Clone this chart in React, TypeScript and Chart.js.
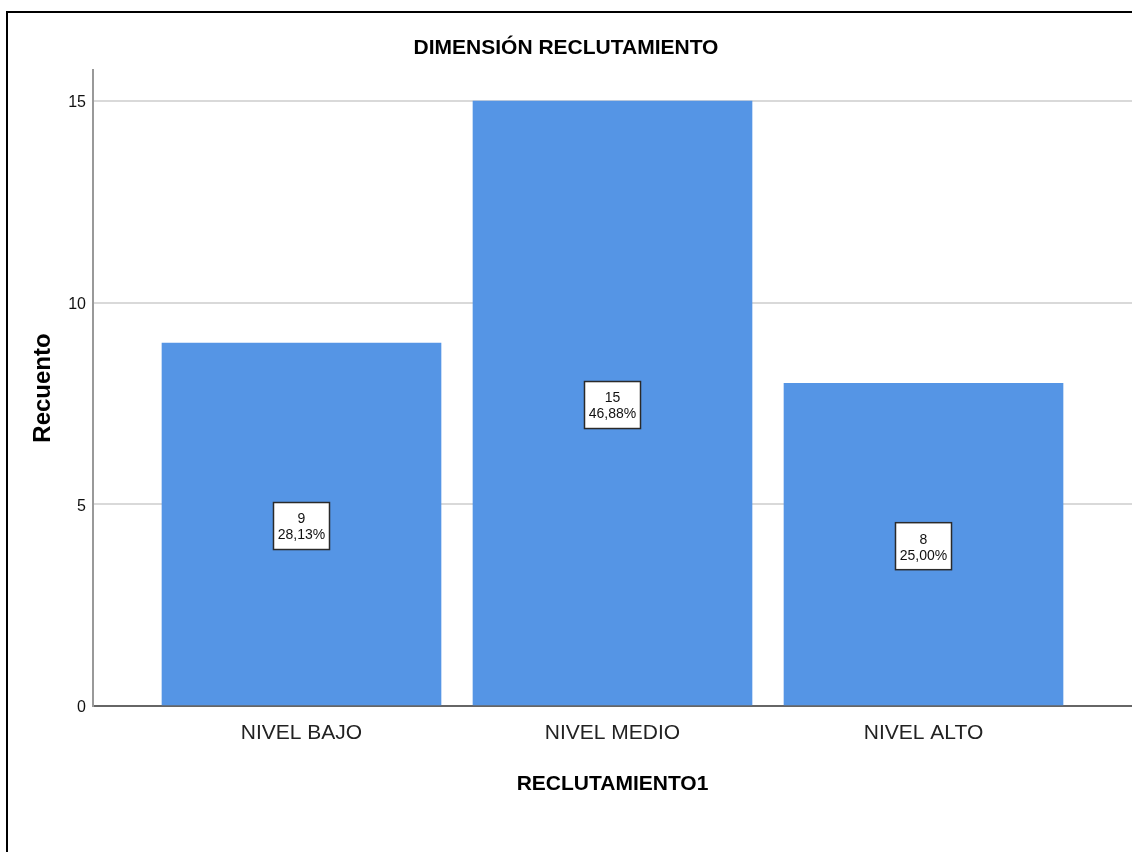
import React, { useEffect, useRef } from "react";
import { Chart, registerables } from "chart.js";

Chart.register(...registerables);

const categories = ["NIVEL BAJO", "NIVEL MEDIO", "NIVEL ALTO"];
const counts = [9, 15, 8];
const yTickValues = [0, 5, 10, 15];
const chartTitle = "DIMENSIÓN RECLUTAMIENTO";
const xAxisTitle = "RECLUTAMIENTO1";
const yAxisTitle = "Recuento";

const FONT = '"Liberation Sans", Arial, Helvetica, sans-serif';

export default function App() {
  const ref = useRef<HTMLCanvasElement | null>(null);

  useEffect(() => {
    if (!ref.current) return;
    const total = counts.reduce((a, b) => a + b, 0);
    const pct = counts.map((v) => ((v / total) * 100).toFixed(2).replace(".", ",") + "%");

    const boxLabels = {
      id: "boxLabels",
      afterDatasetsDraw(chart: any) {
        const ctx = chart.ctx;
        const meta = chart.getDatasetMeta(0);
        meta.data.forEach((bar: any, i: number) => {
          const { x, y, base } = bar.getProps(["x", "y", "base"], true);
          const cy = (y + base) / 2;
          const w = 56;
          const h = 47;
          const top = cy - 21.5;
          ctx.save();
          ctx.fillStyle = "#ffffff";
          ctx.fillRect(x - w / 2, top, w, h);
          ctx.strokeStyle = "#2a2a2a";
          ctx.lineWidth = 1.5;
          ctx.strokeRect(x - w / 2, top, w, h);
          ctx.fillStyle = "#111111";
          ctx.font = `14px ${FONT}`;
          ctx.textAlign = "center";
          ctx.textBaseline = "middle";
          ctx.fillText(String(counts[i]), x, cy - 4.5);
          ctx.fillText(pct[i], x, cy + 11.5);
          ctx.restore();
        });
      },
    };

    const chart = new Chart(ref.current, {
      type: "bar",
      data: {
        datasets: [
          {
            data: counts.map((v, i) => ({ x: i, y: v })),
            backgroundColor: "#5595e5",
            borderWidth: 0,
            barThickness: 279,
          },
        ],
      },
      options: {
        animation: false,
        responsive: false,
        devicePixelRatio: 1,
        layout: { padding: 0 },
        plugins: {
          legend: { display: false },
          tooltip: { enabled: false },
          title: {
            display: true,
            text: chartTitle,
            color: "#000000",
            font: { family: FONT, size: 21, weight: "bold" },
            padding: { top: 36, bottom: 8.8 },
          },
        },
        scales: {
          x: {
            type: "linear",
            offset: false,
            min: -0.6704,
            max: 2.6704,
            afterBuildTicks: (scale: any) => {
              scale.ticks = categories.map((_, i) => ({ value: i }));
            },
            afterFit: (scale: any) => {
              scale.height = 146;
            },
            ticks: {
              callback: (v: any) => categories[Number(v)] ?? "",
              color: "#222222",
              font: { family: FONT, size: 21 },
              padding: 15,
              maxRotation: 0,
              autoSkip: false,
            },
            grid: { display: false, drawTicks: false, offset: false },
            border: { display: true, color: "#666666", width: 2 },
            title: {
              display: true,
              text: xAxisTitle,
              color: "#000000",
              font: { family: FONT, size: 21, weight: "bold" },
              padding: { top: 0, bottom: 55 },
            },
          },
          y: {
            type: "linear",
            min: 0,
            max: 15.77,
            afterBuildTicks: (scale: any) => {
              scale.ticks = yTickValues.map((v) => ({ value: v }));
            },
            afterFit: (scale: any) => {
              scale.width = 93;
            },
            ticks: {
              color: "#111111",
              font: { family: FONT, size: 16 },
              padding: 7,
              labelOffset: 2,
            },
            grid: {
              drawTicks: false,
              lineWidth: 2,
              color: (c: any) => (c.tick && c.tick.value === 0 ? "rgba(0,0,0,0)" : "#d9d9d9"),
            },
            border: { display: true, color: "#999999", width: 2 },
            title: {
              display: true,
              text: yAxisTitle,
              color: "#000000",
              font: { family: FONT, size: 24, weight: "bold" },
              padding: { top: 28.6, bottom: 0 },
            },
          },
        },
      },
      plugins: [boxLabels],
    } as any);

    return () => chart.destroy();
  }, []);

  return (
    <>
      <div
        style={{
          position: "fixed",
          left: 6,
          top: 11,
          width: 2000,
          height: 2000,
          borderLeft: "2px solid #000",
          borderTop: "2px solid #000",
          boxSizing: "border-box",
        }}
      />
      <canvas
        ref={ref}
        width={1132}
        height={852}
        style={{ position: "fixed", left: 0, top: 0, width: 1132, height: 852 }}
      />
    </>
  );
}
